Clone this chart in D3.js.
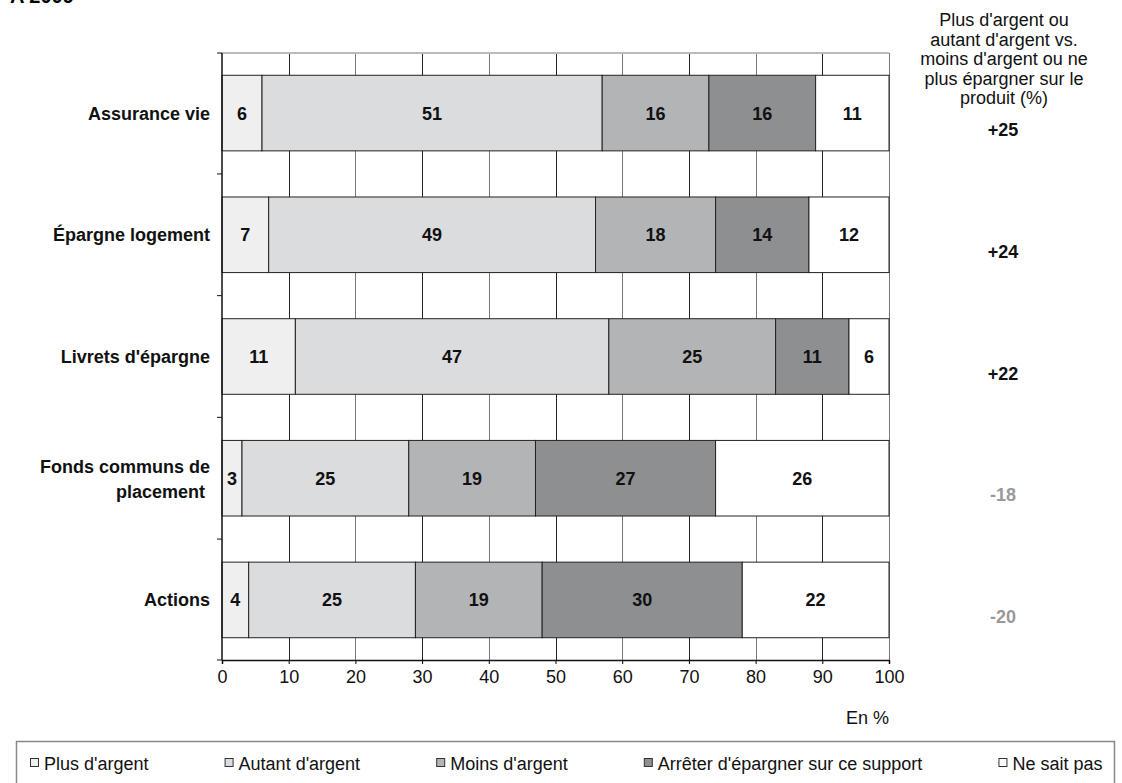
<!DOCTYPE html>
<html>
<head>
<meta charset="utf-8">
<script src="https://cdn.jsdelivr.net/npm/d3@7"></script>
<style>
  body { margin: 0; background: #fff; }
  text { font-family: "Liberation Sans", Arial, Helvetica, sans-serif; }
</style>
</head>
<body>
<div id="chart"></div>
<script>
// svg size
var width = 1122;
var height = 783;

// plot area
var margin = { top: 53, left: 222 };
var plotWidth = 667;
var plotHeight = 607;
var fs = 18;

// data
var categories = ["Assurance vie", "Épargne logement", "Livrets d'épargne", "Fonds communs de placement", "Actions"];
var catLines = [["Assurance vie"], ["Épargne logement"], ["Livrets d'épargne"], ["Fonds communs de", "placement\u00a0"], ["Actions"]];
var seriesNames = ["Plus d'argent", "Autant d'argent", "Moins d'argent", "Arrêter d'épargner sur ce support", "Ne sait pas"];
var plusArgent = [6, 7, 11, 3, 4];
var autantArgent = [51, 49, 47, 25, 25];
var moinsArgent = [16, 18, 25, 19, 19];
var arreter = [16, 14, 11, 27, 30];
var neSaitPas = [11, 12, 6, 26, 22];
var solde = ["+25", "+24", "+22", "-18", "-20"];
var xTicks = [0, 10, 20, 30, 40, 50, 60, 70, 80, 90, 100];

var colors = ["#efefef", "#dbdcde", "#b3b4b6", "#8d8f91", "#ffffff"];

var svg = d3.select("#chart")
  .append("svg")
  .attr("width", width)
  .attr("height", height);

// title, cut off at the top like in the source
svg.append("text")
  .attr("x", 10)
  .attr("y", 3)
  .attr("font-size", 20)
  .attr("font-weight", "bold")
  .text("A 2009");

var chartGroup = svg.append("g")
  .attr("transform", `translate(${margin.left}, ${margin.top})`);

var x = d3.scaleLinear().domain([0, 100]).range([0, plotWidth]);
var y = d3.scaleBand().domain(categories).range([0, plotHeight])
  .paddingInner(0.379).paddingOuter(0.183);

// stack
var rows = categories.map(function(c, i) {
  return { cat: c, s0: plusArgent[i], s1: autantArgent[i], s2: moinsArgent[i], s3: arreter[i], s4: neSaitPas[i] };
});
var stack = d3.stack().keys(["s0", "s1", "s2", "s3", "s4"]);
var layers = stack(rows);

// vertical grid
chartGroup.selectAll(".vgrid")
  .data(xTicks.slice(1))
  .enter()
  .append("line")
  .attr("x1", d => Math.round(x(d)) + 0.5)
  .attr("x2", d => Math.round(x(d)) + 0.5)
  .attr("y1", 0)
  .attr("y2", plotHeight)
  .attr("stroke", (d, i) => i % 2 === 0 ? "#222" : "#777")
  .attr("stroke-width", 1);

// top line
chartGroup.append("line")
  .attr("x1", 0).attr("x2", plotWidth)
  .attr("y1", 0).attr("y2", 0)
  .attr("stroke", "#bbb")
  .attr("stroke-width", 2);

// bars
layers.forEach(function(layer, k) {
  chartGroup.append("g")
    .selectAll("rect")
    .data(layer)
    .enter()
    .append("rect")
    .attr("x", d => x(d[0]))
    .attr("y", d => y(d.data.cat))
    .attr("width", d => x(d[1]) - x(d[0]))
    .attr("height", y.bandwidth())
    .attr("fill", colors[k])
    .attr("stroke", "#222")
    .attr("stroke-width", 1);

  chartGroup.append("g")
    .selectAll("text")
    .data(layer)
    .enter()
    .append("text")
    .attr("x", d => (x(d[0]) + x(d[1])) / 2)
    .attr("y", d => y(d.data.cat) + y.bandwidth() / 2 + 6.5)
    .attr("text-anchor", "middle")
    .attr("font-size", fs)
    .attr("font-weight", "bold")
    .attr("fill", "#111")
    .text(d => d[1] - d[0]);
});

// x axis
var bottomAxis = d3.axisBottom(x).tickValues(xTicks).tickSize(4).tickPadding(6);
var xAxis = chartGroup.append("g")
  .attr("transform", `translate(0, ${plotHeight})`)
  .call(bottomAxis);
xAxis.selectAll("text").attr("font-size", fs).attr("fill", "#111")
  .style("font-family", "'Liberation Sans', Arial, sans-serif");
xAxis.select(".domain").attr("stroke", "#111").attr("stroke-width", 1.5);

// y axis: ticks on band boundaries
var bounds = [0].concat(categories.map(c => y(c) + y.bandwidth() + y.step() * y.paddingInner() / 2));
bounds[bounds.length - 1] = plotHeight;
chartGroup.append("line")
  .attr("x1", 0).attr("x2", 0)
  .attr("y1", 0).attr("y2", plotHeight)
  .attr("stroke", "#111").attr("stroke-width", 1.5);
chartGroup.selectAll(".ytick")
  .data(bounds)
  .enter()
  .append("line")
  .attr("x1", -5).attr("x2", 0)
  .attr("y1", d => d).attr("y2", d => d)
  .attr("stroke", "#111");

// category labels
catLines.forEach(function(lines, i) {
  var cy = y(categories[i]) + y.bandwidth() / 2;
  var t = chartGroup.append("text")
    .attr("x", -12)
    .attr("y", cy + 6.5 - (lines.length - 1) * 12)
    .attr("text-anchor", "end")
    .attr("font-size", fs)
    .attr("font-weight", "bold")
    .attr("fill", "#111");
  lines.forEach(function(l, j) {
    t.append("tspan").attr("x", -12).attr("dy", j === 0 ? 0 : 25).text(l);
  });
});

// right column header
var header = ["Plus d'argent ou", "autant d'argent vs.", "moins d'argent ou ne", "plus épargner sur le", "produit (%)"];
svg.append("text")
  .attr("text-anchor", "middle")
  .attr("font-size", fs)
  .attr("fill", "#111")
  .selectAll("tspan")
  .data(header)
  .enter()
  .append("tspan")
  .attr("x", 1004)
  .attr("y", (d, i) => 26 + i * 19.5)
  .text(d => d);

// right column values
svg.append("g")
  .selectAll("text")
  .data(solde)
  .enter()
  .append("text")
  .attr("x", 1003)
  .attr("y", (d, i) => margin.top + y(categories[i]) + y.bandwidth() / 2 + 23)
  .attr("text-anchor", "middle")
  .attr("font-size", fs)
  .attr("font-weight", "bold")
  .attr("fill", d => d[0] === "-" ? "#999" : "#111")
  .text(d => d);

// unit
svg.append("text")
  .attr("x", margin.left + plotWidth)
  .attr("y", 724)
  .attr("text-anchor", "end")
  .attr("font-size", fs)
  .attr("fill", "#111")
  .text("En %");

// legend
svg.append("rect")
  .attr("x", 16.5).attr("y", 741.5)
  .attr("width", 1098).attr("height", 60)
  .attr("fill", "none")
  .attr("stroke", "#888")
  .attr("stroke-width", 1.5);

var legend = svg.append("g")
  .selectAll("g")
  .data(seriesNames)
  .enter()
  .append("g");
legend.append("rect")
  .attr("x", 0.5).attr("y", -4.5)
  .attr("width", 8).attr("height", 8)
  .attr("fill", (d, i) => colors[i])
  .attr("stroke", "#333");
legend.append("text")
  .attr("x", 14)
  .attr("y", 6.5)
  .attr("font-size", fs)
  .attr("fill", "#111")
  .text(d => d);

// spread legend items evenly between left and right of the box
var itemW = [];
legend.each(function() { itemW.push(this.getBBox().width); });
var legStart = 30, legEnd = 1102;
var gap = (legEnd - legStart - d3.sum(itemW)) / (itemW.length - 1);
var pos = legStart;
legend.attr("transform", function(d, i) {
  var t = `translate(${pos}, 763)`;
  pos += itemW[i] + gap;
  return t;
});
</script>
</body>
</html>
